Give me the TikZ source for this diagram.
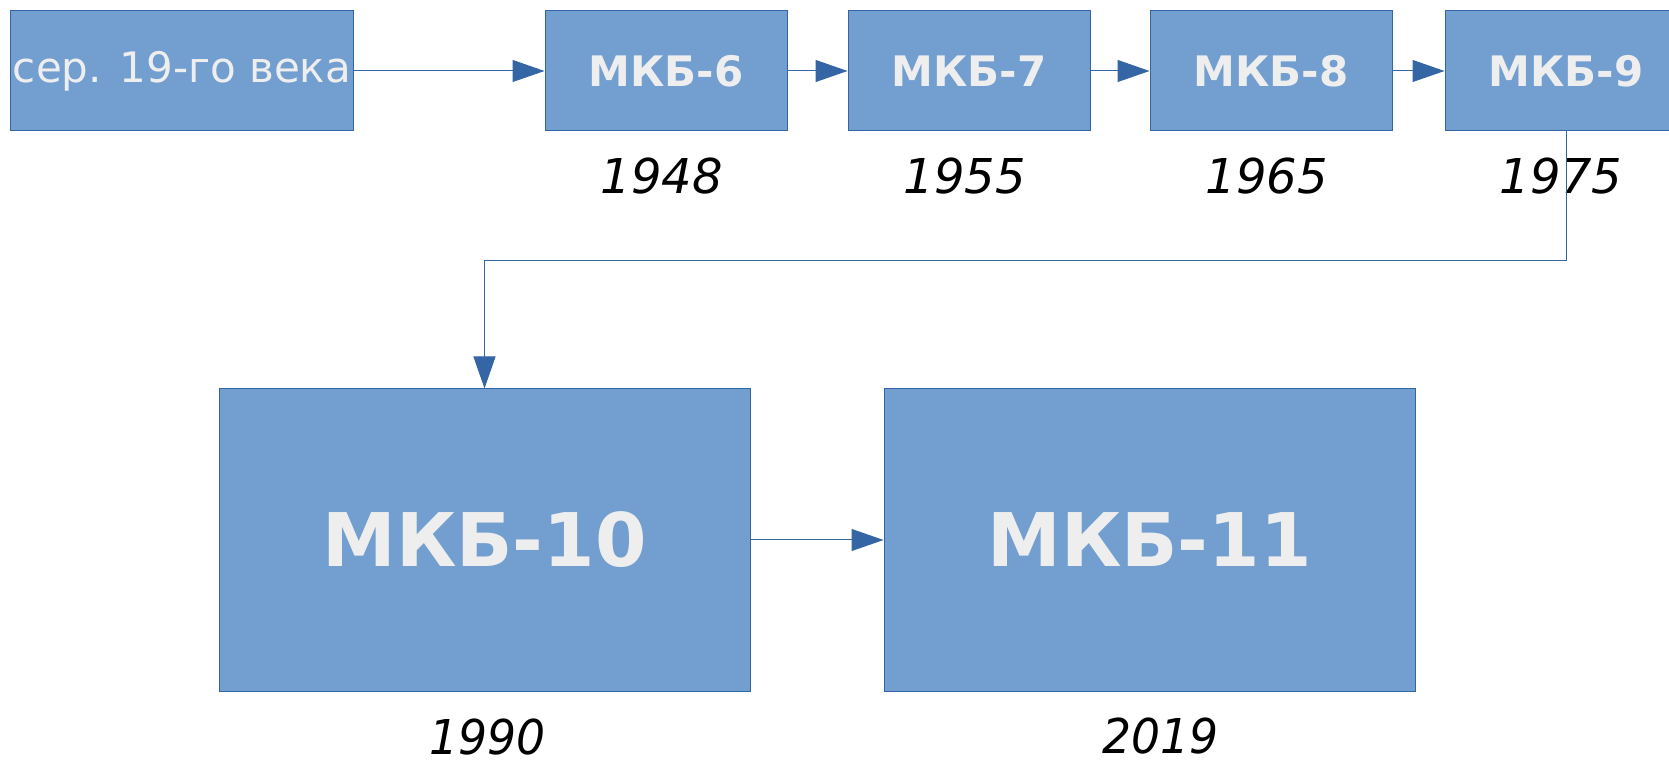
\documentclass[tikz,border=0pt]{standalone}
\usepackage{fontspec}
\usepackage{graphicx}
\setmainfont{DejaVu Sans}
\usetikzlibrary{arrows.meta}
\definecolor{boxfill}{HTML}{729FCF}
\definecolor{boxline}{HTML}{3465A4}
\definecolor{boxtext}{HTML}{EEEEEE}
\begin{document}
\begin{tikzpicture}[x=0.5pt,y=-0.5pt,
    box/.style={draw=boxline, line width=0.5pt, fill=boxfill, text=boxtext,
      inner sep=0pt, minimum width=121pt, minimum height=60pt,
      font=\fontsize{21}{25}\selectfont\bfseries},
    bigbox/.style={box, minimum width=265.5pt, minimum height=151pt,
      font=\fontsize{37}{42}\selectfont\bfseries},
    year/.style={font=\fontsize{24}{28}\selectfont\itshape},
    arr/.style={draw=boxline, line width=0.5pt,
      -{Triangle[length=16pt, width=11pt]}}]
  \useasboundingbox (0,0) rectangle (1669,763);
  \clip (0,0) rectangle (1669,763);
  % top row
  \node[box, minimum width=171.5pt, font=\fontsize{21}{25}\selectfont] (b0) at (182,71) {сер. 19-го века};
  \node[box] (b6) at (666,71) {МКБ-6};
  \node[box] (b7) at (969,71) {МКБ-7};
  \node[box] (b8) at (1271,71) {МКБ-8};
  \node[box] (b9) at (1566,71) {МКБ-9};
  \node[year] (y6) at (662,176) {1948};
  \node[year] (y7) at (965,176) {1955};
  \node[year] (y8) at (1267,176) {1965};
  \node[year] (y9) at (1561,176) {1975};
  % bottom row
  \node[bigbox] (b10) at (484.5,540) {МКБ-10};
  \node[bigbox] (b11) at (1149.5,540) {МКБ-11};
  \node[year] (y10) at (488,737) {\scalebox{0.95}[1]{1990}};
  \node[year] (y11) at (1161,736) {\scalebox{0.95}[1]{2019}};
  \draw[arr] (b0) -- (b6);
  \draw[arr] (b6) -- (b7);
  \draw[arr] (b7) -- (b8);
  \draw[arr] (b8) -- (b9);
  \draw[arr] (b9.south) -- ++(0,129) -| (b10.north);
  \draw[arr] (b10) -- (b11);
\end{tikzpicture}
\end{document}
